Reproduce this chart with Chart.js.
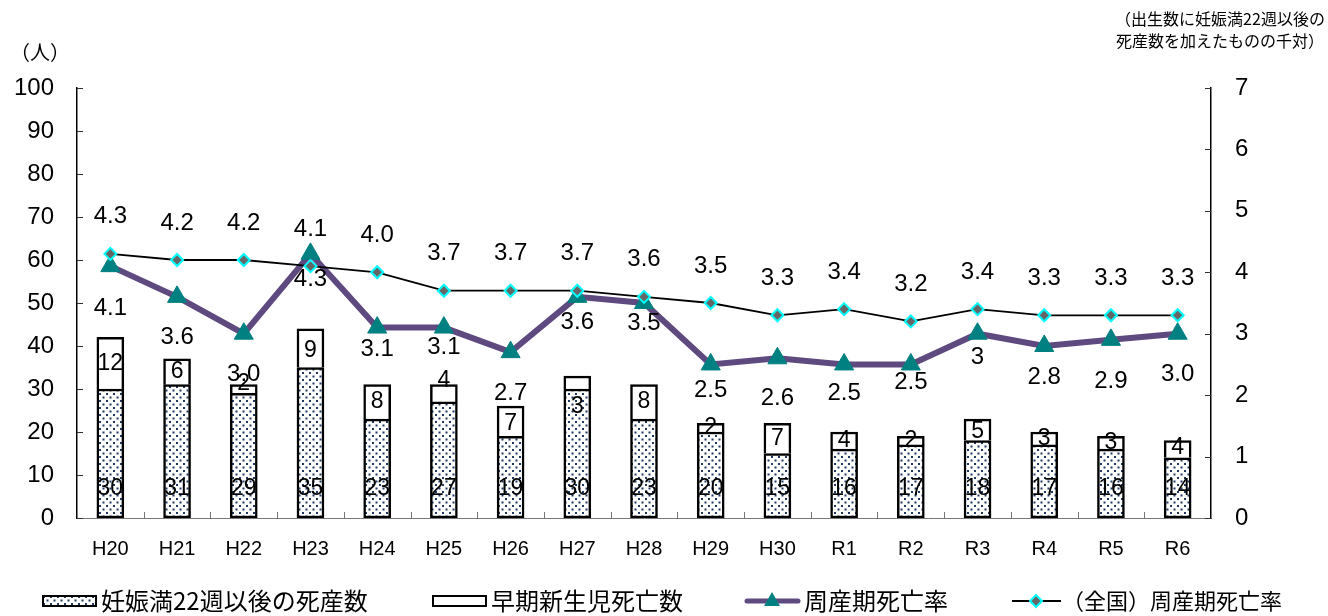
<!DOCTYPE html>
<html lang="ja">
<head>
<meta charset="utf-8">
<script src="https://cdn.jsdelivr.net/npm/chart.js@4.4.1/dist/chart.umd.min.js"></script>
<style>
  html, body { margin: 0; padding: 0; background: #fff; }
  #wrap { width: 1328px; height: 616px; position: relative; }
</style>
</head>
<body>
<div id="wrap"><canvas id="myChart" width="1328" height="616"></canvas></div>
<script>
// data
const labels = ['H20','H21','H22','H23','H24','H25','H26','H27','H28','H29','H30','R1','R2','R3','R4','R5','R6'];
const stillbirths = [30,31,29,35,23,27,19,30,23,20,15,16,17,18,17,16,14];
const earlyNeonatal = [12,6,2,9,8,4,7,3,8,2,7,4,2,5,3,3,4];
const perinatalRate = [4.1,3.6,3.0,4.3,3.1,3.1,2.7,3.6,3.5,2.5,2.6,2.5,2.5,3.0,2.8,2.9,3.0];
const perinatalText = ['4.1','3.6','3.0','4.3','3.1','3.1','2.7','3.6','3.5','2.5','2.6','2.5','2.5','3','2.8','2.9','3.0'];
const nationalRate = [4.3,4.2,4.2,4.1,4.0,3.7,3.7,3.7,3.6,3.5,3.3,3.4,3.2,3.4,3.3,3.3,3.3];

// label nudges (px) as placed in the original
const rateLabelDy = [42,41,41,26,22,20,41,26,20,26,40,29,18,24,31,42,41];
const earlyLabelDy = [0,0,-5,3,0,-13,2,24,0,0,0,0,0,2,0,0,-2];

const FONT = '"Liberation Sans", "Noto Sans CJK JP", sans-serif';
const JFONT = '"Noto Sans CJK JP", "Liberation Sans", sans-serif';
const PURPLE = '#5F4A80';
const TEAL = '#008080';

function makeDots() {
    const c = document.createElement('canvas');
    c.width = 7; c.height = 7;
    const g = c.getContext('2d');
    g.fillStyle = '#fff';
    g.fillRect(0, 0, 7, 7);
    g.fillStyle = '#1F3864';
    g.fillRect(1, 1, 2, 2);
    g.fillRect(4.5, 4.5, 2, 2);
    return g.createPattern(c, 'repeat');
}
const ctx = document.getElementById('myChart').getContext('2d');
const dots = makeDots();

const extras = {
    id: 'extras',
    afterDatasetsDraw(chart) {
        const c = chart.ctx;
        const x = chart.scales.x, y = chart.scales.y, y1 = chart.scales.y1;
        const area = chart.chartArea;
        c.save();
        c.fillStyle = '#000';
        c.textAlign = 'center';
        c.textBaseline = 'middle';

        // bar labels
        c.font = '23px ' + FONT;
        const base = y.getPixelForValue(0);
        labels.forEach((l, i) => {
            const px = x.getPixelForValue(i);
            c.fillText(String(stillbirths[i]), px, base - 29);
            const top = y.getPixelForValue(stillbirths[i] + earlyNeonatal[i]);
            const bot = y.getPixelForValue(stillbirths[i]);
            c.fillText(String(earlyNeonatal[i]), px, (top + bot) / 2 + earlyLabelDy[i]);
        });

        // line labels
        c.font = '24px ' + FONT;
        labels.forEach((l, i) => {
            const px = x.getPixelForValue(i);
            c.fillText(nationalRate[i].toFixed(1), px, y1.getPixelForValue(nationalRate[i]) - 37);
            c.fillText(perinatalText[i], px, y1.getPixelForValue(perinatalRate[i]) + rateLabelDy[i]);
        });

        // inward ticks
        c.lineWidth = 1;
        c.strokeStyle = '#333';
        y.ticks.forEach(t => {
            const py = Math.round(y.getPixelForValue(t.value)) + 0.5;
            c.beginPath(); c.moveTo(area.left, py); c.lineTo(area.left + 6, py); c.stroke();
        });
        y1.ticks.forEach(t => {
            const py = Math.round(y1.getPixelForValue(t.value)) + 0.5;
            c.beginPath(); c.moveTo(area.right - 6, py); c.lineTo(area.right, py); c.stroke();
        });
        c.strokeStyle = '#777';
        const step = (area.right - area.left) / labels.length;
        for (let k = 1; k < labels.length; k++) {
            const px = Math.round(area.left + k * step) + 0.5;
            c.beginPath(); c.moveTo(px, area.bottom); c.lineTo(px, area.bottom - 6); c.stroke();
        }
        c.restore();
    },
    afterDraw(chart) {
        const c = chart.ctx;
        c.save();
        c.fillStyle = '#000';
        c.textBaseline = 'middle';
        c.textAlign = 'center';
        c.font = '20px ' + JFONT;
        c.fillText('（人）', 40, 52);
        c.font = '16px ' + JFONT;
        c.fillText('（出生数に妊娠満22週以後の', 1220, 19);
        c.fillText('死産数を加えたものの千対）', 1220, 41);

        // legend
        const ly = 601;
        c.textAlign = 'left';
        c.font = '24px ' + JFONT;

        c.fillStyle = dots;
        c.fillRect(43, ly - 5, 53, 10);
        c.strokeStyle = '#000';
        c.lineWidth = 2;
        c.strokeRect(43, ly - 5, 53, 10);
        c.fillStyle = '#000';
        c.fillText('妊娠満22週以後の死産数', 101, ly);

        c.fillStyle = '#fff';
        c.fillRect(433, ly - 5, 53, 10);
        c.strokeRect(433, ly - 5, 53, 10);
        c.fillStyle = '#000';
        c.fillText('早期新生児死亡数', 491, ly);

        c.strokeStyle = PURPLE;
        c.lineWidth = 5;
        c.lineCap = 'round';
        c.beginPath(); c.moveTo(747, ly); c.lineTo(798, ly); c.stroke();
        c.fillStyle = TEAL;
        c.beginPath(); c.moveTo(772, ly - 9); c.lineTo(780, ly + 5); c.lineTo(764, ly + 5); c.closePath(); c.fill();
        c.fillStyle = '#000';
        c.fillText('周産期死亡率', 804, ly);

        c.strokeStyle = '#000';
        c.lineWidth = 2;
        c.lineCap = 'butt';
        c.beginPath(); c.moveTo(1012, ly); c.lineTo(1061, ly); c.stroke();
        c.beginPath(); c.moveTo(1036, ly - 6); c.lineTo(1042, ly); c.lineTo(1036, ly + 6); c.lineTo(1030, ly); c.closePath();
        c.fillStyle = '#666'; c.fill();
        c.strokeStyle = '#00FFFF'; c.lineWidth = 2; c.stroke();
        c.fillStyle = '#000';
        c.font = '22px ' + JFONT;
        c.fillText('（全国）周産期死亡率', 1062, ly);
        c.restore();
    }
};

let config = {
    type: 'bar',
    data: {
        labels: labels,
        datasets: [
            {
                type: 'line',
                label: '(全国)周産期死亡率',
                data: nationalRate,
                yAxisID: 'y1',
                borderColor: '#000',
                borderWidth: 1.8,
                pointStyle: 'rectRot',
                pointRadius: 6,
                pointBackgroundColor: '#666',
                pointBorderColor: '#00FFFF',
                pointBorderWidth: 2,
                order: 0
            },
            {
                type: 'line',
                label: '周産期死亡率',
                data: perinatalRate,
                yAxisID: 'y1',
                borderColor: PURPLE,
                borderWidth: 6,
                pointStyle: 'triangle',
                pointRadius: 11,
                pointBackgroundColor: TEAL,
                pointBorderColor: TEAL,
                pointBorderWidth: 1,
                order: 1
            },
            {
                label: '妊娠満22週以後の死産数',
                data: stillbirths,
                yAxisID: 'y',
                backgroundColor: dots,
                borderColor: '#000',
                borderWidth: 2.5,
                borderSkipped: false,
                barThickness: 27,
                stack: 's',
                order: 2
            },
            {
                label: '早期新生児死亡数',
                data: earlyNeonatal,
                yAxisID: 'y',
                backgroundColor: '#fff',
                borderColor: '#000',
                borderWidth: 2.5,
                borderSkipped: 'bottom',
                barThickness: 27,
                stack: 's',
                order: 3
            }
        ]
    },
    options: {
        responsive: false,
        animation: false,
        layout: { padding: { top: 88, left: 0, right: 0, bottom: 0 } },
        plugins: {
            legend: { display: false },
            tooltip: { enabled: false }
        },
        scales: {
            x: {
                stacked: true,
                grid: { display: false, drawTicks: false },
                border: { color: '#777', width: 1 },
                ticks: { color: '#000', font: { size: 20, family: FONT }, padding: 19, maxRotation: 0 },
                afterFit(s) { s.height = 98; }
            },
            y: {
                stacked: true,
                position: 'left',
                min: 0, max: 100,
                grid: { display: false, drawTicks: false },
                border: { color: '#000', width: 1.5 },
                ticks: { stepSize: 10, color: '#000', font: { size: 24, family: FONT }, padding: 23 },
                afterFit(s) { s.width = 77; }
            },
            y1: {
                position: 'right',
                min: 0, max: 7,
                grid: { display: false, drawTicks: false },
                border: { color: '#000', width: 1.5 },
                ticks: { stepSize: 1, color: '#000', font: { size: 24, family: FONT }, padding: 24 },
                afterFit(s) { s.width = 117; }
            }
        }
    },
    plugins: [extras]
};

let myChart = new Chart(ctx, config);
</script>
</body>
</html>
